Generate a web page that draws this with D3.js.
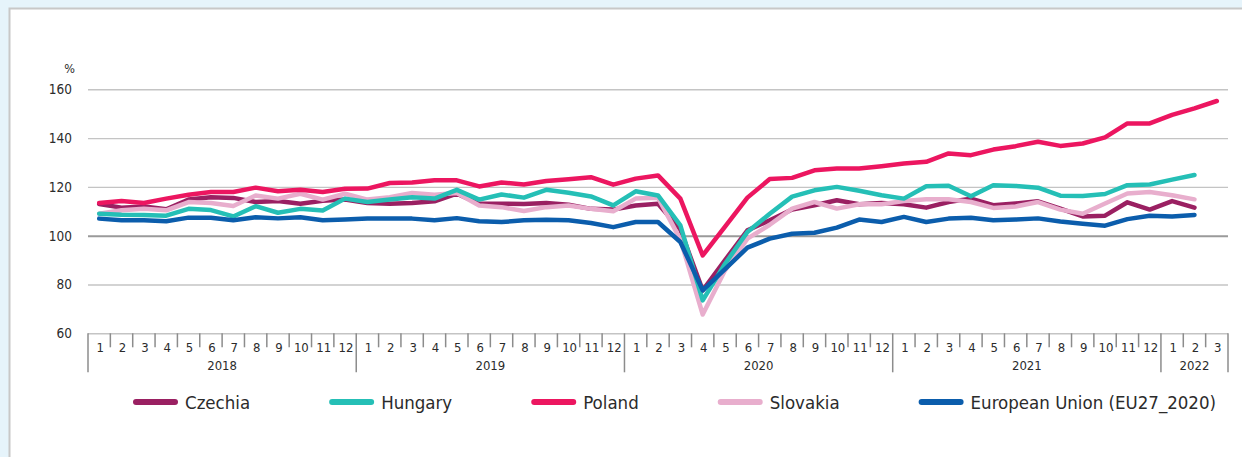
<!DOCTYPE html>
<html>
<head>
<meta charset="utf-8">
<script src="https://cdn.jsdelivr.net/npm/d3@7"></script>
<style>
  html, body { margin: 0; padding: 0; background: #e6f4fb; }
  svg { display: block; }
  text { font-family: "DejaVu Sans", sans-serif; font-stretch: condensed; fill: #2b2b2b; }
</style>
</head>
<body>
<svg id="chart" width="1242" height="457"></svg>
<script>
// ----------
var years = ['2018', '2019', '2020', '2021', '2022'];
var monthsPerYear = [12, 12, 12, 12, 3];
var yTicks = [60, 80, 100, 120, 140, 160];

var names = ['Czechia', 'Hungary', 'Poland', 'Slovakia', 'European Union (EU27_2020)'];

var czechia = [
  113, 111.5, 112, 110.8, 114.8, 115.8, 115.5, 113.8, 114.2, 113.1, 114.3, 114.8,
  113.4, 113.1, 113.4, 114.1, 117.2, 113.1, 113.1, 113, 113.4, 112.7, 111, 110.7,
  112.4, 113.1, 102.5, 77.6, 90, 102.2, 106.3, 110.7, 112.5, 114.5, 112.9, 113.4,
  112.9, 111.5, 113.8, 115.2, 112.5, 113.2, 114.1, 111.1, 107.9, 108.2, 113.7, 110.7,
  114.2, 111.5
];
var hungary = [
  109, 108.6, 108.5, 108.2, 111, 110.5, 107.9, 112.1, 109.4, 111, 110.3, 115.2,
  113.8, 114.8, 115.8, 115.2, 118.8, 114.8, 116.9, 115.6, 118.8, 117.6, 116.1, 112.4,
  118.2, 116.5, 104.2, 73.5, 88.5, 101.5, 109, 116, 118.6, 120, 118.4, 116.6,
  115.2, 120.3, 120.5, 116.2, 120.7, 120.4, 119.7, 116.4, 116.3, 117.1, 120.7, 121,
  123, 124.9
];
var poland = [
  113.4, 114.2, 113.4, 115.2, 116.8, 117.9, 117.9, 119.7, 118.2, 118.8, 117.9, 119.2,
  119.3, 121.6, 121.8, 122.7, 122.7, 120.2, 121.8, 121, 122.4, 123.1, 124, 120.9,
  123.4, 124.7, 115.2, 91.9, 103.7, 115.6, 123.2, 123.7, 126.8, 127.5, 127.5, 128.5,
  129.6, 130.3, 133.7, 133, 135.3, 136.7, 138.5, 136.8, 137.8, 140.3, 146, 146,
  149.5, 152.2, 155.2
];
var slovakia = [
  109, 110.4, 111, 110.4, 113.8, 113.4, 112.2, 116.5, 115.2, 117.2, 114.8, 117.2,
  114.8, 115.8, 117.5, 116.8, 117.5, 112.4, 111.7, 110.1, 111.7, 112.4, 111, 110,
  115.2, 115.6, 98.5, 67.7, 85.8, 98.8, 104.5, 111.1, 113.8, 111.1, 112.9, 112.9,
  114.2, 114.9, 114.9, 113.8, 111.4, 112, 113.8, 110.7, 109, 113.2, 117.3, 117.9,
  116.6, 114.9
];
var eu = [
  107, 106.3, 106.3, 105.9, 107.4, 107.4, 106.3, 107.6, 107.1, 107.6, 106.3, 106.6,
  107, 107, 107, 106.3, 107.2, 105.9, 105.6, 106.3, 106.5, 106.3, 105.2, 103.5,
  105.6, 105.6, 97.4, 77.6, 86.3, 95.1, 98.8, 100.8, 101.2, 103.3, 106.6, 105.6,
  107.7, 105.6, 107, 107.4, 106.3, 106.6, 107.1, 105.8, 104.9, 104.1, 106.8, 108.2,
  107.9, 108.5
];

var colors = ['#9a2062', '#25bfb6', '#ec1660', '#e8aecd', '#0b5dac'];

(function() {

  // ----------
  var svg = d3.select('#chart');
  var left = 88, right = 1228, top = 89.3, bottom = 333.3;

  // month index -> label
  var months = [];
  var yearStarts = [];
  monthsPerYear.forEach(function(n, yi) {
    yearStarts.push(months.length);
    for (var m = 1; m <= n; m++) {
      months.push(String(m));
    }
  });

  var x = d3.scaleBand()
    .domain(d3.range(months.length))
    .range([left, right]);

  var y = d3.scaleLinear()
    .domain([60, 160])
    .range([bottom, top]);

  // ----------
  // white panel
  svg.append('rect')
    .attr('x', 9.5)
    .attr('y', 8.5)
    .attr('width', 1300)
    .attr('height', 500)
    .style('fill', '#fff')
    .style('stroke', '#c8c8c8')
    .style('stroke-width', 2);

  // ----------
  // y axis + grid
  var yAxis = svg.append('g')
    .attr('transform', 'translate(' + left + ',0)')
    .call(d3.axisLeft(y).tickValues(yTicks).tickSize(-(right - left)).tickPadding(16));

  yAxis.select('.domain').remove();
  yAxis.selectAll('.tick line')
    .style('stroke', function(d) { return d === 100 ? '#9a9a9a' : '#c4c4c4'; })
    .style('stroke-width', function(d) { return d === 100 ? 2 : 1.4; });
  yAxis.selectAll('.tick text')
    .attr('font-family', null)
    .style('font-size', '13.5px')
    .style('fill', '#2b2b2b');

  svg.append('text')
    .attr('x', 75)
    .attr('y', 73)
    .attr('text-anchor', 'end')
    .style('font-size', '12.5px')
    .text('%');

  // ----------
  // x axis
  var xAxis = svg.append('g')
    .attr('transform', 'translate(0,' + bottom + ')');

  var boundaries = d3.range(months.length + 1);
  var isYearEdge = function(i) { return i === months.length || yearStarts.indexOf(i) >= 0; };

  xAxis.selectAll('line.tick')
    .data(boundaries)
    .enter().append('line')
    .attr('class', 'tick')
    .attr('x1', function(i) { return i === months.length ? right : x(i); })
    .attr('x2', function(i) { return i === months.length ? right : x(i); })
    .attr('y1', 0)
    .attr('y2', function(i) { return isYearEdge(i) ? 39 : 14; })
    .style('stroke', '#8c8c8c')
    .style('stroke-width', 1.5);

  xAxis.selectAll('text.month')
    .data(months)
    .enter().append('text')
    .attr('class', 'month')
    .attr('x', function(d, i) { return x(i) + x.bandwidth() / 2 + 1; })
    .attr('y', 18.5)
    .attr('text-anchor', 'middle')
    .style('font-size', '13px')
    .text(function(d) { return d; });

  xAxis.selectAll('text.year')
    .data(years)
    .enter().append('text')
    .attr('class', 'year')
    .attr('x', function(d, i) {
      var a = x(yearStarts[i]);
      var b = i + 1 < yearStarts.length ? x(yearStarts[i + 1]) : right;
      return (a + b) / 2;
    })
    .attr('y', 37)
    .attr('text-anchor', 'middle')
    .style('font-size', '13px')
    .text(function(d) { return d; });

  // ----------
  // lines
  var series = [czechia, hungary, poland, slovakia, eu];
  var order = [0, 3, 1, 2, 4];

  var line = d3.line()
    .x(function(d, i) { return x(i) + x.bandwidth() / 2; })
    .y(function(d) { return y(d); });

  order.forEach(function(k) {
    svg.append('path')
      .datum(series[k])
      .attr('d', line)
      .style('fill', 'none')
      .style('stroke', colors[k])
      .style('stroke-width', 4.5)
      .style('stroke-linejoin', 'round')
      .style('stroke-linecap', 'round');
  });

  // ----------
  // legend
  var legend = svg.append('g')
    .attr('transform', 'translate(0,402)');

  var cursor = 136;
  names.forEach(function(name, k) {
    legend.append('line')
      .attr('x1', cursor)
      .attr('x2', cursor + 39)
      .attr('y1', 0)
      .attr('y2', 0)
      .style('stroke', colors[k])
      .style('stroke-width', 6)
      .style('stroke-linecap', 'round');

    var label = legend.append('text')
      .attr('x', cursor + 49)
      .attr('y', 6.5)
      .style('font-size', '18.5px')
      .text(name);

    cursor += 49 + label.node().getComputedTextLength() + 82;
  });

})();
</script>
</body>
</html>
